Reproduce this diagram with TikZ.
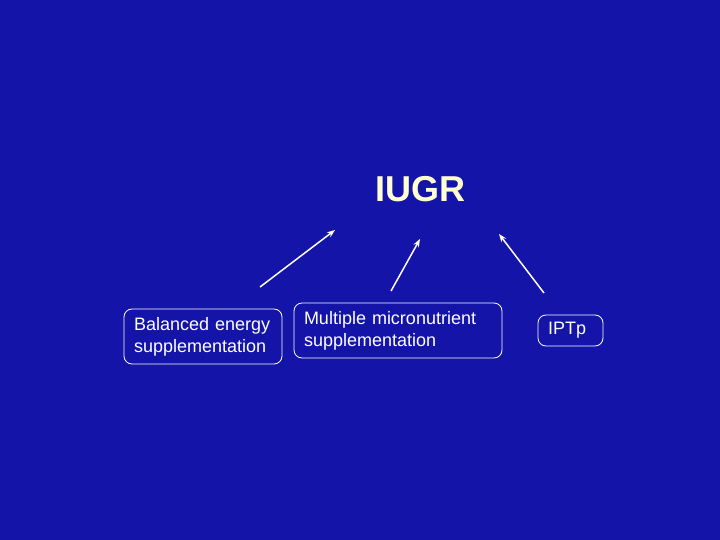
\documentclass[tikz,border=0pt]{standalone}
\usepackage{fontspec}
\setmainfont{Liberation Sans}
\usetikzlibrary{arrows.meta}
\definecolor{bg}{RGB}{20,20,168}
\definecolor{titlecol}{RGB}{255,255,210}
\hyphenpenalty=10000
\exhyphenpenalty=10000
\begin{document}
\begin{tikzpicture}[x=1pt,y=1pt,
  box/.style={draw=white, line width=0.8pt, rounded corners=8pt, text=white,
    font=\fontsize{18}{22}\selectfont, align=left, inner xsep=10pt, inner ysep=0pt,
    minimum height=55pt},
  arr/.style={draw=white, line width=1.5pt, -{Stealth[length=8pt,width=6pt]}}]
\fill[bg] (0,0) rectangle (720,-540);
\useasboundingbox (0,0) rectangle (720,-540);
\node[text=titlecol, font=\fontsize{36}{40}\selectfont\bfseries] (iugr) at (420,-189) {IUGR};
\node[box, text width=138pt] (bal) at (203,-336.5) {Balanced energy\\supplementation};
\node[box, text width=188pt] (mult) at (398,-330.5) {Multiple micronutrient\\supplementation};
\node[box, text width=45pt, minimum height=31pt] (iptp) at (570.5,-330.5) {IPTp};
\coordinate (a1s) at (260,-287);
\coordinate (a1e) at (335,-230);
\coordinate (a2s) at (391,-291);
\coordinate (a2e) at (420,-239);
\coordinate (a3s) at (544,-293);
\coordinate (a3e) at (499,-234);
\draw[arr] (a1s) -- (a1e);
\draw[arr] (a2s) -- (a2e);
\draw[arr] (a3s) -- (a3e);
\end{tikzpicture}
\end{document}
